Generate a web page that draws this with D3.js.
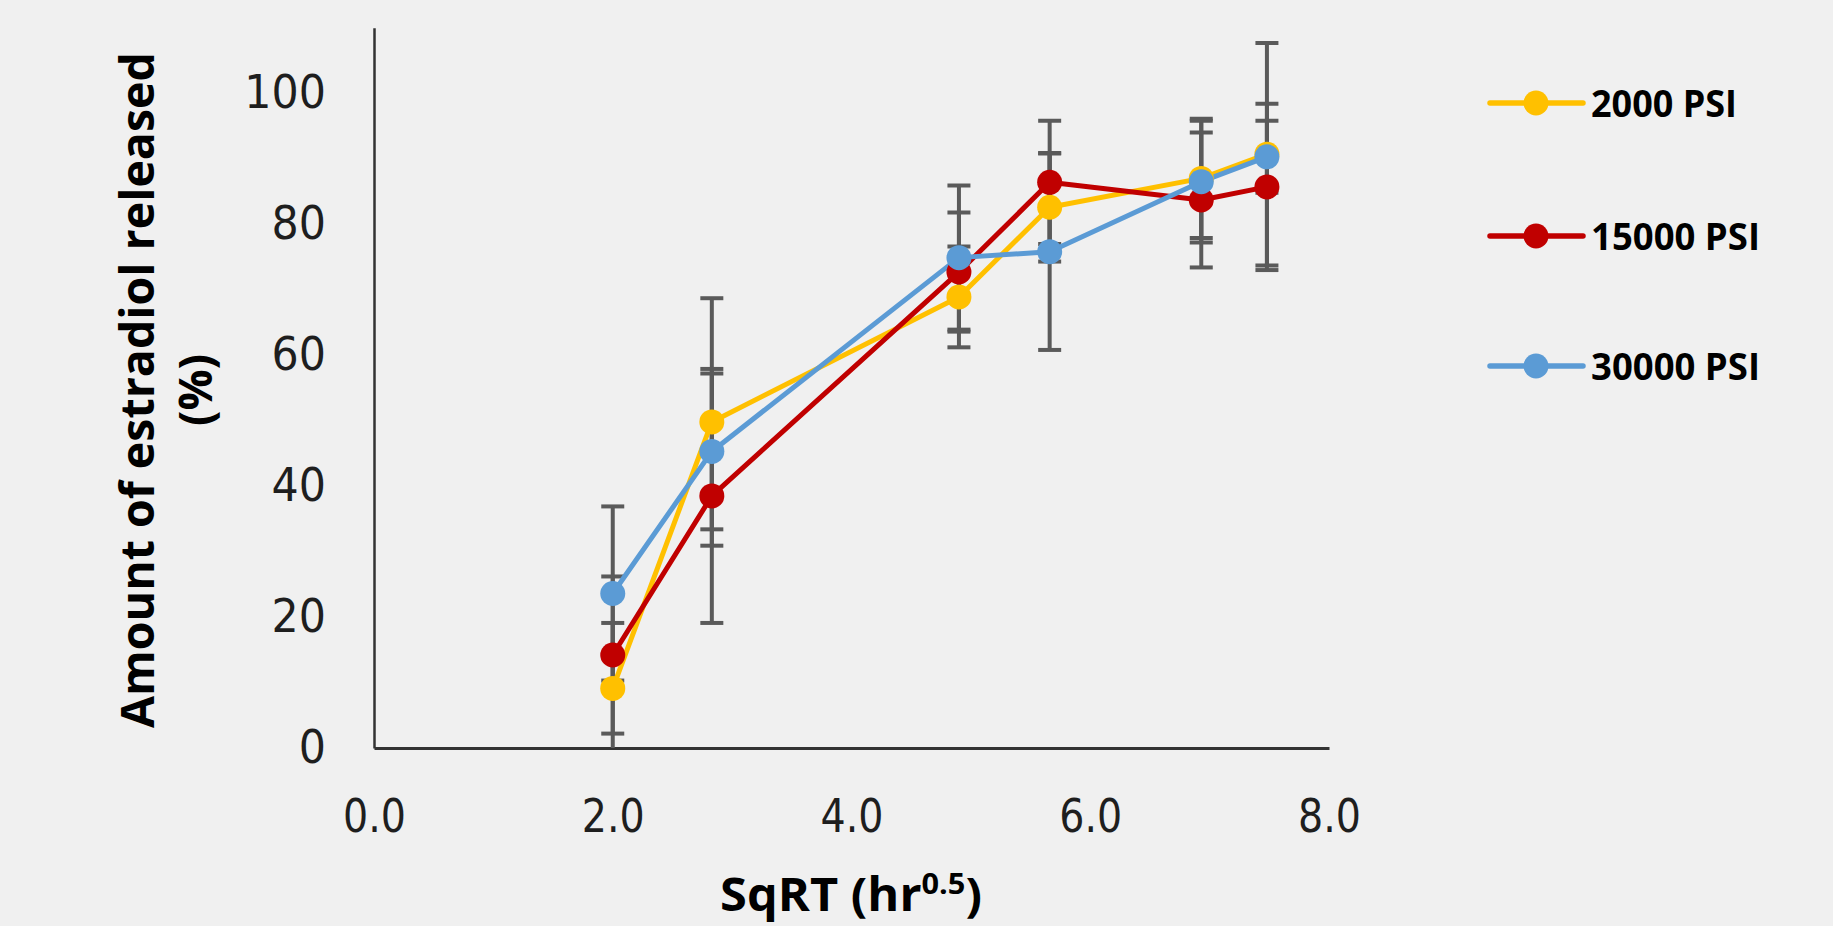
<!DOCTYPE html>
<html>
<head>
<meta charset="utf-8">
<script src="https://cdn.jsdelivr.net/npm/d3@7"></script>
<style>
  html, body { margin: 0; padding: 0; background: #f0f0f0; }
  svg { display: block; }
</style>
</head>
<body>
<svg id="chart" width="1833" height="926"></svg>
<script>
// ---- data ----
const sqrtTime = [2.0, 2.83, 4.90, 5.66, 6.93, 7.48];
const seriesNames = ["2000 PSI", "15000 PSI", "30000 PSI"];
const psi2000 = [9.1, 49.8, 68.9, 82.6, 87.0, 90.7];
const err2000 = [10.0, 18.9, 7.7, 8.3, 9.1, 17.0];
const psi15000 = [14.2, 38.5, 72.7, 86.4, 83.7, 85.7];
const err15000 = [12.0, 19.4, 9.1, 9.4, 10.3, 12.7];
const psi30000 = [23.6, 45.3, 74.9, 75.8, 86.5, 90.3];
const err30000 = [13.3, 11.9, 11.0, 15.0, 9.3, 5.5];
const xTickValues = [0, 2, 4, 6, 8];
const yTickValues = [0, 20, 40, 60, 80, 100];
const xTitle = "SqRT (hr";
const xTitleSup = "0.5";
const yTitleLine1 = "Amount of estradiol released";
const yTitleLine2 = "(%)";

const colors = ["#FFC000", "#C00000", "#5B9BD5"];
const series = [
  { name: seriesNames[0], values: psi2000, errors: err2000, color: colors[0] },
  { name: seriesNames[1], values: psi15000, errors: err15000, color: colors[1] },
  { name: seriesNames[2], values: psi30000, errors: err30000, color: colors[2] }
];

// ---- layout ----
const svg = d3.select("#chart");
const left = 374, right = 1329, bottom = 748;
const x = d3.scaleLinear().domain([0, 8]).range([left, right]);
const y = d3.scaleLinear().domain([0, 110]).range([bottom, bottom - 110 * 6.547]);

svg.append("rect").attr("width", 1833).attr("height", 926).attr("fill", "#f0f0f0");

svg.append("defs").append("clipPath").attr("id", "plotclip")
  .append("rect")
  .attr("x", left).attr("y", y(110))
  .attr("width", right - left).attr("height", bottom - y(110));

// axes
const yAxis = svg.append("g").attr("transform", `translate(${left},0)`)
  .call(d3.axisLeft(y).tickValues(yTickValues).tickSize(0).tickSizeOuter(0).tickPadding(48).tickFormat(d3.format("d")));
yAxis.select(".domain").attr("stroke", "#333").attr("stroke-width", 2.5);
yAxis.selectAll(".tick line").remove();
yAxis.selectAll(".tick text")
  .attr("dy", null).attr("y", 14)
  .attr("font-family", "DejaVu Sans").attr("font-size", 46).attr("fill", "#1e1e1e")
  .each(function () {
    const w = this.getComputedTextLength();
    d3.select(this).attr("textLength", w * 0.93).attr("lengthAdjust", "spacingAndGlyphs");
  });

const xAxis = svg.append("g").attr("transform", `translate(0,${bottom})`)
  .call(d3.axisBottom(x).tickValues(xTickValues).tickSize(0).tickSizeOuter(0).tickFormat(d3.format(".1f")));
xAxis.select(".domain").attr("stroke", "#333").attr("stroke-width", 3);
xAxis.selectAll(".tick line").remove();
xAxis.selectAll(".tick text")
  .attr("dy", null).attr("y", 84)
  .attr("font-family", "DejaVu Sans").attr("font-size", 46).attr("fill", "#1e1e1e")
  .each(function () {
    const w = this.getComputedTextLength();
    d3.select(this).attr("textLength", w * 0.86).attr("lengthAdjust", "spacingAndGlyphs");
  });
svg.selectAll(".domain").attr("fill", "none");

// error bars
const errG = svg.append("g").attr("clip-path", "url(#plotclip)");
const capHalf = 11.5;
series.forEach(s => {
  s.values.forEach((v, i) => {
    const cx = x(sqrtTime[i]);
    const y1 = y(v + s.errors[i]), y0 = y(v - s.errors[i]);
    const g = errG.append("g").attr("stroke", "#5a5a5a").attr("stroke-width", 4);
    g.append("line").attr("x1", cx).attr("x2", cx).attr("y1", y1).attr("y2", y0);
    g.append("line").attr("x1", cx - capHalf).attr("x2", cx + capHalf).attr("y1", y1).attr("y2", y1);
    g.append("line").attr("x1", cx - capHalf).attr("x2", cx + capHalf).attr("y1", y0).attr("y2", y0);
  });
});

// lines and markers
const line = d3.line().x((d, i) => x(sqrtTime[i])).y(d => y(d));
series.forEach(s => {
  svg.append("path").datum(s.values)
    .attr("d", line).attr("fill", "none")
    .attr("stroke", s.color).attr("stroke-width", 5)
    .attr("stroke-linejoin", "round").attr("stroke-linecap", "round");
});
series.forEach(s => {
  svg.append("g").selectAll("circle").data(s.values).join("circle")
    .attr("cx", (d, i) => x(sqrtTime[i])).attr("cy", d => y(d))
    .attr("r", 12.5).attr("fill", s.color);
});

function fitWidth(sel, target) {
  sel.attr("textLength", target).attr("lengthAdjust", "spacingAndGlyphs");
}

// y title
const yt = svg.append("g").attr("transform", "translate(154,390) rotate(-90)");
const yt1 = yt.append("text").attr("text-anchor", "middle")
  .attr("font-family", "Open Sans").attr("font-weight", 700).attr("font-size", 46).attr("fill", "#000")
  .text(yTitleLine1);
fitWidth(yt1, 676);
const yt2 = yt.append("text").attr("text-anchor", "middle").attr("y", 58)
  .attr("font-family", "Open Sans").attr("font-weight", 700).attr("font-size", 46).attr("fill", "#000")
  .text(yTitleLine2);
fitWidth(yt2, 72);

// x title
const xtG = svg.append("g").attr("transform", "translate(851,911)");
const xt = xtG.append("text").attr("text-anchor", "middle")
  .attr("font-family", "Open Sans").attr("font-weight", 700).attr("font-size", 46).attr("fill", "#000");
xt.append("tspan").text(xTitle);
xt.append("tspan").attr("font-size", 29).attr("dy", -17).text(xTitleSup);
xt.append("tspan").attr("dy", 17).text(")");
const xtw = xt.node().getBBox().width;
xt.attr("transform", `scale(${262 / xtw},1)`);

// legend
const legendY = [103, 236, 366];
const legendW = [146, 169, 169];
series.forEach((s, i) => {
  const g = svg.append("g").attr("transform", `translate(0,${legendY[i]})`);
  g.append("line").attr("x1", 1490).attr("x2", 1583).attr("y1", 0).attr("y2", 0)
    .attr("stroke", s.color).attr("stroke-width", 5.5).attr("stroke-linecap", "round");
  g.append("circle").attr("cx", 1536).attr("cy", 0).attr("r", 12.5).attr("fill", s.color);
  const t = g.append("text").attr("x", 1591).attr("y", 13.5)
    .attr("font-family", "Open Sans").attr("font-weight", 700).attr("font-size", 37).attr("fill", "#000")
    .text(s.name);
  fitWidth(t, legendW[i]);
});
</script>
</body>
</html>
